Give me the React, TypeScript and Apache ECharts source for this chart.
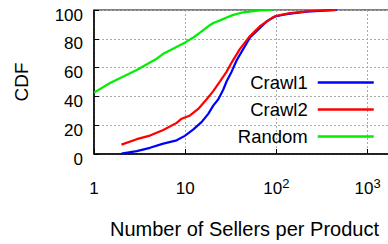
import React, { useEffect, useRef } from "react";
import * as echarts from "echarts";

const crawl1X = [2, 2.94, 4.11, 5.75, 8.06, 9.9, 12.3, 15.2, 17.9, 20.3, 23.1, 26.2, 28.5, 32.3, 36.7, 43.4, 51.4, 63.4, 78.3, 96.6, 129, 214, 459];
const crawl1Y = [0.3, 2.0, 4.3, 7.2, 9.5, 12.6, 17.1, 22.3, 27.9, 33.6, 38.0, 44.8, 50.5, 57.2, 65.1, 73.0, 80.9, 86.5, 92.1, 95.5, 97.1, 98.9, 100];

const crawl2X = [2, 2.94, 4.11, 5.75, 8.06, 9.15, 11.3, 13.9, 17.2, 20.3, 24.1, 28.5, 32.3, 39.9, 51.4, 66, 89, 100, 141, 236, 450];
const crawl2Y = [6.5, 10.3, 12.8, 16.7, 21.6, 24.5, 26.8, 31.3, 38.0, 43.7, 50.5, 57.2, 63.5, 73.0, 82.0, 88.7, 94.4, 96.0, 97.8, 99.3, 100];

const randomX = [1, 1.5, 2.94, 4.87, 5.75, 10, 12.3, 14.5, 17.9, 20.3, 24.1, 28.5, 33.7, 43.4, 66, 91];
const randomY = [42.6, 49.3, 58.3, 66.2, 69.6, 77.5, 80.9, 84.3, 88.7, 91.0, 92.8, 94.8, 96.6, 98.4, 99.8, 100];

const seriesNames = ["Crawl1", "Crawl2", "Random"];
const seriesColors = ["#0000ff", "#ff0000", "#00ee00"];
const xTickLabels: Record<number, string> = { 1: "{a|1}", 10: "{a|10}", 100: "{a|10}{b|2}", 1000: "{a|10}{b|3}" };

const FONT = "Liberation Sans";

function pairs(xs: number[], ys: number[]) {
  return xs.map((x, i) => [x, ys[i]]);
}

export default function App() {
  const ref = useRef<HTMLDivElement>(null);
  useEffect(() => {
    if (!ref.current) return;
    const chart = echarts.init(ref.current, null, { renderer: "svg" });
    const data = [pairs(crawl1X, crawl1Y), pairs(crawl2X, crawl2Y), pairs(randomX, randomY)];
    chart.setOption({
      animation: false,
      backgroundColor: "#ffffff",
      grid: {
        left: 94,
        top: 10,
        bottom: 86,
        right: 0,
        show: true,
        borderColor: "#000",
        borderWidth: 1,
      },
      legend: {
        orient: "vertical",
        right: 20,
        top: 69,
        padding: 0,
        align: "right",
        itemWidth: 56,
        itemHeight: 14,
        itemGap: 0,
        data: seriesNames,
        itemStyle: { opacity: 0 },
        lineStyle: { width: 2.5 },
        textStyle: {
          fontFamily: FONT,
          fontSize: 18.5,
          color: "#000",
          lineHeight: 21,
          padding: [6, 5, 0, 0],
        },
      },
      xAxis: {
        type: "log",
        logBase: 10,
        min: 1,
        max: 2000,
        name: "Number of Sellers per Product",
        nameLocation: "middle",
        nameGap: 65,
        nameTextStyle: { fontFamily: FONT, fontSize: 20, color: "#000" },
        axisLine: { show: true, lineStyle: { color: "#000", width: 1.5 } },
        axisTick: { show: true, inside: true, length: 5, lineStyle: { color: "#000" } },
        minorTick: { show: false },
        splitLine: { show: true, lineStyle: { color: "#aaaaaa", type: [2, 2], width: 1 } },
        axisLabel: {
          margin: 23,
          showMaxLabel: false,
          formatter: (v: number) => xTickLabels[Math.round(v)] ?? "",
          rich: {
            a: { fontFamily: FONT, fontSize: 17, color: "#000", lineHeight: 20, verticalAlign: "bottom" },
            b: { fontFamily: FONT, fontSize: 13, color: "#000", lineHeight: 13, verticalAlign: "top" },
          },
        },
      },
      yAxis: {
        type: "value",
        min: 0,
        max: 100,
        interval: 20,
        name: "CDF",
        nameLocation: "middle",
        nameRotate: 90,
        nameGap: 63,
        nameTextStyle: { fontFamily: FONT, fontSize: 19, color: "#000" },
        axisLine: { show: true, lineStyle: { color: "#000", width: 1.5 } },
        axisTick: { show: true, inside: true, length: 5, lineStyle: { color: "#000" } },
        splitLine: { show: true, lineStyle: { color: "#aaaaaa", type: [2, 2], width: 1 } },
        axisLabel: {
          margin: 11,
          fontFamily: FONT,
          fontSize: 17,
          color: "#000",
          verticalAlign: "top",
          lineHeight: 10,
        },
      },
      series: seriesNames.map((name, i) => ({
        name,
        type: "line",
        data: data[i],
        symbol: "none",
        showSymbol: false,
        color: seriesColors[i],
        lineStyle: { color: seriesColors[i], width: 2.2 },
        clip: true,
      })),
    });
    return () => chart.dispose();
  }, []);
  return (
    <div style={{ position: "absolute", left: 0, top: 0, width: 388, height: 244, overflow: "hidden" }}>
      <div ref={ref} style={{ width: 395, height: 244 }} />
    </div>
  );
}
